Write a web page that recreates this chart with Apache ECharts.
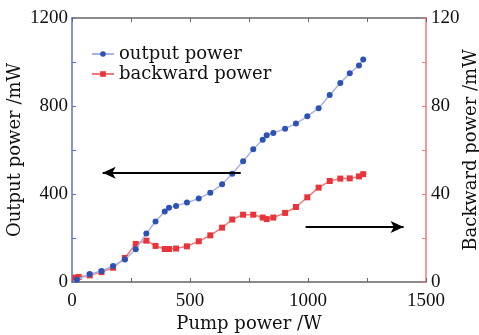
<!DOCTYPE html>
<html>
<head>
<meta charset="utf-8">
<script src="https://cdn.jsdelivr.net/npm/echarts@6/dist/echarts.min.js"></script>
<style>
  html, body { margin: 0; padding: 0; background: #fff; }
  #chart { width: 479px; height: 335px; }
</style>
</head>
<body>
<div id="chart"></div>
<script>
// 泵浦功率 (W) 与输出功率 (mW)
var pumpOut = [21, 75, 125, 174, 224, 270, 315, 354, 393, 411, 441, 487, 537, 586, 636, 679, 725, 768,
    808, 825, 853, 903, 949, 997, 1045, 1092, 1137, 1177, 1216, 1234];
var outputPower = [10, 36, 50, 73, 102, 149, 220, 275, 321, 338, 346, 361, 379, 406, 444, 492, 549, 603,
    647, 667, 677, 697, 720, 753, 790, 850, 905, 949, 984, 1011];

// 泵浦功率 (W) 与后向功率 (mW)
var pumpBack = [14, 28, 75, 125, 174, 224, 270, 315, 354, 393, 411, 441, 487, 537, 586, 636, 679, 725, 768,
    808, 825, 853, 903, 949, 997, 1045, 1092, 1137, 1177, 1216, 1234];
var backwardPower = [2.0, 2.3, 3.0, 4.5, 6.5, 10.9, 17.3, 18.8, 16.4, 15.0, 15.0, 15.2, 16.2, 18.5, 21.2, 24.7, 28.4, 30.6, 30.6,
    29.3, 28.6, 29.3, 31.4, 34.1, 38.5, 42.9, 45.9, 47.0, 47.1, 48.0, 49.0];

var xTicks = [0, 500, 1000, 1500];
var leftTicks = [0, 400, 800, 1200];
var rightTicks = [0, 40, 80, 120];

function pairs(xs, ys) {
    return xs.map(function (x, i) { return [x, ys[i]]; });
}

var numFont = 'Liberation Serif';
var textFont = 'DejaVu Serif';

var chart = echarts.init(document.getElementById('chart'));
var option = {
    animation: false,
    grid: { left: 72, right: 53, top: 18, bottom: 53, outerBoundsMode: 'none' },
    legend: {
        orient: 'vertical',
        left: 86,
        top: 40,
        itemWidth: 22,
        itemHeight: 7,
        itemGap: 2,
        textStyle: { fontFamily: textFont, fontSize: 18, color: '#111' },
        data: ['output power', 'backward power']
    },
    xAxis: [{
        type: 'value',
        min: 0,
        max: 1500,
        interval: 250,
        name: 'Pump power /W',
        nameLocation: 'middle',
        nameGap: 33,
        nameMoveOverlap: false,
        nameTextStyle: { fontFamily: textFont, fontSize: 18, color: '#111' },
        axisLine: { onZero: false, lineStyle: { color: '#666', width: 1.5 } },
        axisTick: { inside: true, length: 4, lineStyle: { color: '#666' } },
        splitLine: { show: false },
        axisLabel: {
            margin: 10,
            fontFamily: numFont,
            fontSize: 19,
            color: '#111',
            formatter: function (v) { return xTicks.indexOf(v) >= 0 ? v : ''; }
        }
    }, {
        type: 'value',
        position: 'top',
        min: 0,
        max: 1500,
        interval: 250,
        axisLine: { onZero: false, lineStyle: { color: '#666', width: 1.5 } },
        axisTick: { inside: true, length: 4, lineStyle: { color: '#666' } },
        splitLine: { show: false },
        axisLabel: { show: false }
    }],
    yAxis: [{
        type: 'value',
        position: 'left',
        min: 0,
        max: 1200,
        interval: 200,
        name: 'Output power /mW',
        nameLocation: 'middle',
        nameGap: 48,
        nameMoveOverlap: false,
        nameTextStyle: { fontFamily: textFont, fontSize: 18, color: '#111' },
        axisLine: { show: true, onZero: false, lineStyle: { color: '#5a72c8', width: 1.5 } },
        axisTick: { inside: true, length: 4, lineStyle: { color: '#5a72c8' } },
        splitLine: { show: false },
        axisLabel: {
            margin: 4,
            fontFamily: numFont,
            fontSize: 19,
            color: '#111',
            formatter: function (v) { return leftTicks.indexOf(v) >= 0 ? v : ''; }
        }
    }, {
        type: 'value',
        position: 'right',
        min: 0,
        max: 120,
        interval: 20,
        name: 'Backward power /mW',
        nameLocation: 'middle',
        nameGap: 36,
        nameRotate: 90,
        nameMoveOverlap: false,
        nameTextStyle: { fontFamily: textFont, fontSize: 18, color: '#111' },
        axisLine: { show: true, onZero: false, lineStyle: { color: '#f07878', width: 1.5 } },
        axisTick: { inside: true, length: 4, lineStyle: { color: '#f07878' } },
        splitLine: { show: false },
        axisLabel: {
            margin: 5,
            fontFamily: numFont,
            fontSize: 19,
            color: '#111',
            formatter: function (v) { return rightTicks.indexOf(v) >= 0 ? v : ''; }
        }
    }],
    series: [{
        name: 'output power',
        type: 'line',
        xAxisIndex: 0,
        yAxisIndex: 0,
        data: pairs(pumpOut, outputPower),
        symbol: 'circle',
        symbolSize: 6,
        itemStyle: { color: '#2c52b4' },
        lineStyle: { color: '#a9b2e6', width: 1.5 },
        z: 3,
        markLine: {
            silent: true,
            symbol: ['none', 'arrow'],
            symbolSize: [9, 13],
            label: { show: false },
            lineStyle: { color: '#000', width: 2, type: 'solid' },
            data: [[{ coord: [715, 497] }, { coord: [130, 497] }]]
        }
    }, {
        name: 'backward power',
        type: 'line',
        xAxisIndex: 0,
        yAxisIndex: 1,
        data: pairs(pumpBack, backwardPower),
        symbol: 'rect',
        symbolSize: 6,
        itemStyle: { color: '#e8343a' },
        lineStyle: { color: '#f07a7a', width: 1.5 },
        z: 2,
        markLine: {
            silent: true,
            symbol: ['none', 'arrow'],
            symbolSize: [9, 13],
            label: { show: false },
            lineStyle: { color: '#000', width: 2, type: 'solid' },
            data: [[{ coord: [990, 25] }, { coord: [1405, 25] }]]
        }
    }]
};
chart.setOption(option);
</script>
</body>
</html>
